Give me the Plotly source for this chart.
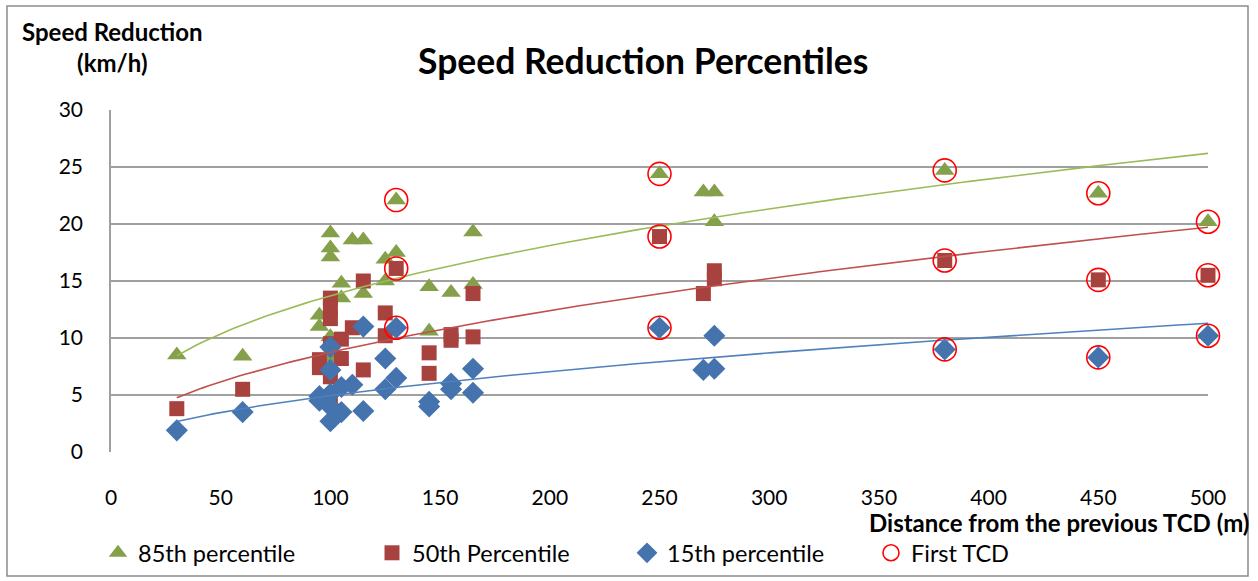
import numpy as np
import plotly.graph_objects as go

# ---------------- data ----------------
x85 = [30, 60, 95, 95, 100, 100, 100, 100, 100, 105, 105, 110, 115, 115, 125, 125,
       130, 130, 145, 145, 155, 165, 165, 250, 270, 275, 275, 380, 450, 500]
y85 = [8.5, 8.4, 12.0, 11.0, 19.2, 17.9, 17.1, 10.1, 8.3, 14.8, 13.5, 18.6, 18.6, 13.9, 16.9, 15.0,
       17.5, 22.1, 14.5, 10.6, 14.0, 19.3, 14.7, 24.4, 22.8, 22.8, 20.2, 24.7, 22.7, 20.2]

x50 = [30, 60, 95, 95, 100, 100, 100, 100, 100, 100, 105, 105, 110, 115, 115, 125, 125,
       130, 145, 145, 155, 155, 165, 165, 250, 270, 275, 275, 380, 450, 500]
y50 = [3.8, 5.5, 8.1, 7.4, 13.5, 12.6, 11.7, 9.5, 6.6, 4.6, 9.9, 8.2, 10.9, 15.0, 7.2, 12.2, 10.2,
       16.1, 8.7, 6.9, 10.3, 9.8, 13.9, 10.1, 18.9, 13.9, 15.9, 15.2, 16.8, 15.1, 15.5]

x15 = [30, 60, 95, 95, 100, 100, 100, 100, 100, 105, 105, 110, 115, 115, 125, 125,
       130, 130, 145, 145, 155, 155, 165, 165, 250, 270, 275, 275, 380, 450, 500]
y15 = [1.9, 3.5, 4.9, 4.5, 9.2, 7.2, 5.1, 4.0, 2.7, 5.7, 3.5, 5.9, 11.0, 3.6, 8.2, 5.5,
       10.9, 6.5, 4.4, 4.0, 6.0, 5.5, 7.3, 5.2, 10.9, 7.2, 10.2, 7.3, 9.0, 8.3, 10.2]

x_first = [130, 130, 130, 250, 250, 250, 380, 380, 380, 450, 450, 450, 500, 500, 500]
y_first = [22.1, 16.1, 10.9, 24.4, 18.9, 10.9, 24.7, 16.8, 9.0, 22.7, 15.1, 8.3, 20.2, 15.5, 10.2]

x_ticks = list(range(0, 501, 50))
y_ticks = list(range(0, 31, 5))

FONT = "Lato, 'Open Sans', sans-serif"

# ---------------- geometry ----------------
W, H = 1258, 581
L, R, T, B = 111, 1208, 110, 452  # plot area pixel bounds


def px(xp):
    return (xp - L) / (R - L)


def py(yp):
    return (B - yp) / (B - T)


def power_fit(xs, ys):
    lx, ly = np.log(xs), np.log(ys)
    b, lna = np.polyfit(lx, ly, 1)
    return np.exp(lna), b


fig = go.Figure()

series = [
    ("85th percentile", x85, y85, "triangle-up", 17, "#84A04A", "#9BBB59", "legend"),
    ("50th Percentile", x50, y50, "square", 15, "#A8423F", "#C0504D", "legend2"),
    ("15th percentile", x15, y15, "diamond", 17, "#4473AE", "#4F81BD", "legend3"),
]

for name, xs, ys, sym, size, col, _, lg in series:
    fig.add_trace(go.Scatter(
        x=xs, y=ys, mode="markers", name=name, legend=lg,
        marker=dict(symbol=sym, size=size, color=col, line=dict(width=0)),
        cliponaxis=False,
    ))

# power trendlines (least-squares fit in log space, like a spreadsheet power trendline)
for name, xs, ys, sym, size, col, lcol, lg in series:
    a, b = power_fit(np.array(xs, float), np.array(ys, float))
    xt = np.linspace(min(xs), max(xs), 200)
    fig.add_trace(go.Scatter(
        x=xt, y=a * xt ** b, mode="lines", showlegend=False, hoverinfo="skip",
        line=dict(color=lcol, width=1.6),
    ))

fig.add_trace(go.Scatter(
    x=x_first, y=y_first, mode="markers", name="First TCD", legend="legend4",
    marker=dict(symbol="circle-open", size=23, color="#FF0000", line=dict(width=1.6, color="#FF0000")),
    cliponaxis=False,
))

LEG_FONT = dict(family=FONT, size=23.5, color="black")


def leg(xpix):
    return dict(orientation="h", xref="container", yref="container",
                x=xpix / W, y=1 - 553 / H, xanchor="left", yanchor="middle",
                font=LEG_FONT, itemwidth=30, bgcolor="rgba(0,0,0,0)")


fig.update_layout(
    width=W, height=H,
    margin=dict(l=L, r=W - R, t=T, b=H - B),
    paper_bgcolor="white", plot_bgcolor="white",
    font=dict(family=FONT, size=20, color="black"),
    showlegend=True,
    legend=leg(98),
    legend2=leg(372),
    legend3=leg(627),
    legend4=leg(871),
    xaxis=dict(
        range=[0, 500], tickvals=x_ticks, ticktext=[str(v) for v in x_ticks],
        showgrid=False, zeroline=False, showline=False, automargin=False,
        ticks="", ticklabelstandoff=31,
        tickfont=dict(family=FONT, size=21, color="black"),
    ),
    yaxis=dict(
        range=[0, 30], tickvals=y_ticks, ticktext=[str(v) for v in y_ticks],
        showgrid=True, gridcolor="#A0A0A0", gridwidth=1.5, automargin=False,
        zeroline=False, showline=True, linecolor="#A0A0A0", linewidth=1.5,
        ticks="", ticklabelstandoff=22,
        tickfont=dict(family=FONT, size=21, color="black"),
    ),
    shapes=[
        dict(type="rect", xref="paper", yref="paper",
             x0=px(7), x1=px(1248), y0=py(576), y1=py(6),
             line=dict(color="#8C8C8C", width=1.5), fillcolor="rgba(0,0,0,0)", layer="below"),
    ],
    annotations=[
        dict(text="<b>Speed Reduction Percentiles</b>", xref="paper", yref="paper",
             x=px(643), y=py(61), xanchor="center", yanchor="middle", showarrow=False,
             font=dict(family=FONT, size=35.5, color="black")),
        dict(text="<b>Speed Reduction</b><br><b>(km/h)</b>", xref="paper", yref="paper",
             x=px(112), y=py(47), xanchor="center", yanchor="middle", showarrow=False,
             align="center", font=dict(family=FONT, size=24, color="black")),
        dict(text="<b>Distance from the previous TCD (m)</b>", xref="paper", yref="paper",
             x=px(1251), y=py(522), xanchor="right", yanchor="middle", showarrow=False,
             font=dict(family=FONT, size=24, color="black")),
    ],
)

fig.write_html("out.html")
